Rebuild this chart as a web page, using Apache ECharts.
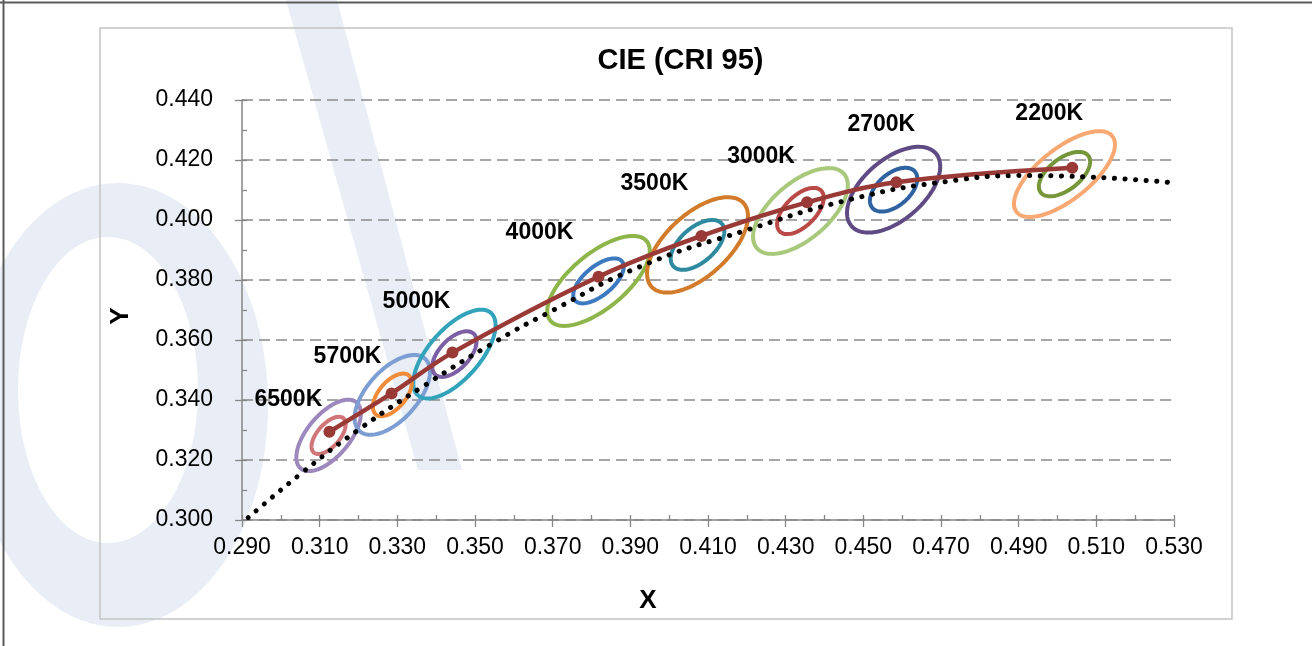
<!DOCTYPE html>
<html><head><meta charset="utf-8">
<script src="https://cdn.jsdelivr.net/npm/echarts@6/dist/echarts.min.js"></script>
<style>html,body{margin:0;padding:0;background:#fff}#c{width:1312px;height:646px}</style>
</head><body><div id="c"></div>
<script>
// ---- data ----
const CCT_LABELS = ['6500K','5700K','5000K','4000K','3500K','3000K','2700K','2200K'];
const POINT_X = [0.3125,0.3285,0.3442,0.3818,0.4083,0.4355,0.4585,0.5038];
const POINT_Y = [0.3294,0.3422,0.3558,0.3811,0.3947,0.4059,0.4126,0.4174];
// ellipse centres (nominal CCT centres)
const ELLIPSE_CX = [0.3123,0.3287,0.3447,0.3818,0.4073,0.4338,0.4578,0.5018];
const ELLIPSE_CY = [0.3282,0.3417,0.3553,0.3797,0.3917,0.4030,0.4101,0.4153];
// outer ellipses: half-extent in x, half-extent in y, tilt correlation
const OUTER_RX  = [0.0083,0.0097,0.0106,0.0132,0.0130,0.0122,0.0120,0.0130];
const OUTER_RY  = [0.0119,0.0133,0.0148,0.0150,0.0159,0.0143,0.0143,0.0143];
const OUTER_RHO = [0.61,0.58,0.65,0.67,0.60,0.60,0.54,0.69];
// inner ellipses
const INNER_RX  = [0.0044,0.0050,0.0057,0.0065,0.0069,0.0060,0.0061,0.0066];
const INNER_RY  = [0.0062,0.0071,0.0076,0.0075,0.0083,0.0077,0.0073,0.0074];
const INNER_RHO = [0.60,0.56,0.56,0.63,0.55,0.57,0.50,0.56];
// dotted trend (Planckian-like locus)
const TREND_X = [0.2916,0.3057,0.3198,0.3361,0.3556,0.3686,0.3924,0.4201,0.4462,0.4712,0.4929,0.5299];
const TREND_Y = [0.3008,0.3160,0.3299,0.3441,0.3597,0.3689,0.3844,0.3967,0.4067,0.4128,0.4148,0.4124];

// ---- styles ----
const FONT = '"Liberation Sans", Arial, sans-serif';
const OUTER_COLORS = ['#9C88BC','#7C9ED3','#33A3BB','#8DB54A','#D27B2B','#A8C97B','#5F4A84','#F8A872'];
const INNER_COLORS = ['#D07678','#F08C3A','#7D5FA6','#3D79C1','#2E8A9E','#BA4A48','#2F62A0','#76963A'];
const LABEL_OFFSETS = [[-41,-32],[-44,-37],[-36,-51],[-59,-44],[-47,-52],[-46,-46],[-15,-58],[-23,-54]];
const LINE_COLOR = '#993A37';
const AXIS_COLOR = '#868686';
const WM = '#E9EEF6';

function ellipseSeries(rxArr, ryArr, rhoArr, colors, name) {
  return {
    type: 'custom', name: name, z: 2, silent: true, clip: false,
    data: ELLIPSE_CX.map((cx, i) => [cx, ELLIPSE_CY[i], rxArr[i], ryArr[i], rhoArr[i]]),
    renderItem: function (params, api) {
      const cx = api.value(0), cy = api.value(1), rx = api.value(2), ry = api.value(3), rho = api.value(4);
      const s = Math.sqrt(1 - rho * rho);
      const pts = [];
      for (let k = 0; k < 120; k++) {
        const t = k / 120 * Math.PI * 2;
        pts.push(api.coord([cx + rx * Math.cos(t), cy + ry * (rho * Math.cos(t) + s * Math.sin(t))]));
      }
      return { type: 'polygon', shape: { points: pts },
        style: { fill: null, stroke: colors[params.dataIndex], lineWidth: 4 } };
    }
  };
}

const chart = echarts.init(document.getElementById('c'), null, { renderer: 'canvas' });
const fmt = v => v.toFixed(3);
const tickStyle = { color: AXIS_COLOR, width: 1.3 };

chart.setOption({
  animation: false,
  backgroundColor: '#fff',
  grid: { left: 242, right: 138, top: 100, bottom: 126, containLabel: false },
  xAxis: [{
    type: 'value', min: 0.29, max: 0.53, interval: 0.02, position: 'bottom',
    axisLine: { show: true, lineStyle: { color: AXIS_COLOR, width: 1.5 } },
    axisTick: { show: true, inside: true, length: 5, lineStyle: tickStyle },
    minorTick: { show: true, splitNumber: 2, length: 5, lineStyle: tickStyle },
    axisLabel: { formatter: fmt, fontSize: 23, color: '#000', margin: 16, fontFamily: FONT },
    splitLine: { show: false }
  }, {
    type: 'value', min: 0.29, max: 0.53, interval: 0.02, position: 'bottom',
    axisLine: { show: false },
    axisTick: { show: true, inside: false, length: 7, lineStyle: tickStyle },
    axisLabel: { show: false }, splitLine: { show: false }
  }],
  yAxis: [{
    type: 'value', min: 0.30, max: 0.44, interval: 0.02, position: 'left',
    axisLine: { show: true, lineStyle: { color: AXIS_COLOR, width: 1.5 } },
    axisTick: { show: true, inside: true, length: 5, lineStyle: tickStyle },
    minorTick: { show: true, splitNumber: 2, length: 5, lineStyle: tickStyle },
    axisLabel: { formatter: fmt, fontSize: 23, color: '#000', margin: 29, fontFamily: FONT },
    splitLine: { show: true, lineStyle: { color: '#8A8A8A', width: 1.6, type: [11, 6] } }
  }, {
    type: 'value', min: 0.30, max: 0.44, interval: 0.02, position: 'left',
    axisLine: { show: false },
    axisTick: { show: true, inside: false, length: 7, lineStyle: tickStyle },
    axisLabel: { show: false }, splitLine: { show: false }
  }],
  graphic: [
    // faint watermark
    { type: 'ellipse', shape: { cx: 118, cy: 405, rx: 150, ry: 222 }, style: { fill: WM }, z: -5, silent: true },
    { type: 'ellipse', shape: { cx: 108, cy: 390, rx: 90, ry: 153 }, style: { fill: '#fff' }, z: -4, silent: true },
    { type: 'polygon', shape: { points: [[286, 0], [337, 0], [462, 470], [418, 470]] }, style: { fill: WM }, z: -3, silent: true },
    // frame
    { type: 'rect', shape: { x: 100, y: 28, width: 1132, height: 591 }, style: { fill: null, stroke: '#C3C3C3', lineWidth: 1.5 }, z: 0 },
    { type: 'line', shape: { x1: 0, y1: 2.5, x2: 1312, y2: 2.5 }, style: { stroke: '#5A5A5A', lineWidth: 2 }, z: 10 },
    { type: 'line', shape: { x1: 3.5, y1: 0, x2: 3.5, y2: 646 }, style: { stroke: '#5A5A5A', lineWidth: 2 }, z: 10 },
    { type: 'text', x: 680.5, y: 61, style: { text: 'CIE (CRI 95)', font: 'bold 29px ' + FONT, fill: '#000', align: 'center', verticalAlign: 'middle' }, z: 10 },
    { type: 'text', x: 648, y: 601, style: { text: 'X', font: 'bold 26px ' + FONT, fill: '#000', align: 'center', verticalAlign: 'middle' }, z: 10 },
    { type: 'text', x: 121, y: 316, rotation: Math.PI / 2, style: { text: 'Y', font: 'bold 26px ' + FONT, fill: '#000', align: 'center', verticalAlign: 'middle' }, z: 10 }
  ],
  series: [
    ellipseSeries(OUTER_RX, OUTER_RY, OUTER_RHO, OUTER_COLORS, 'outer'),
    ellipseSeries(INNER_RX, INNER_RY, INNER_RHO, INNER_COLORS, 'inner'),
    {
      type: 'line', name: 'CCT', z: 4, smooth: 0.35, symbol: 'circle', symbolSize: 12,
      xAxisIndex: 0, yAxisIndex: 0,
      lineStyle: { color: LINE_COLOR, width: 4.5 }, itemStyle: { color: LINE_COLOR },
      data: POINT_X.map((x, i) => ({
        value: [x, POINT_Y[i]],
        label: { show: true, position: 'inside', offset: LABEL_OFFSETS[i],
          formatter: () => CCT_LABELS[i], fontSize: 23, fontWeight: 'bold', color: '#000', fontFamily: FONT }
      })),
      emphasis: { disabled: true }
    },
    {
      type: 'line', name: 'trend', z: 5, smooth: true, symbol: 'none',
      lineStyle: { color: '#000', width: 5, type: [0.1, 10.5], cap: 'round' },
      data: TREND_X.map((x, i) => [x, TREND_Y[i]]),
      emphasis: { disabled: true }
    }
  ]
});
</script></body></html>
